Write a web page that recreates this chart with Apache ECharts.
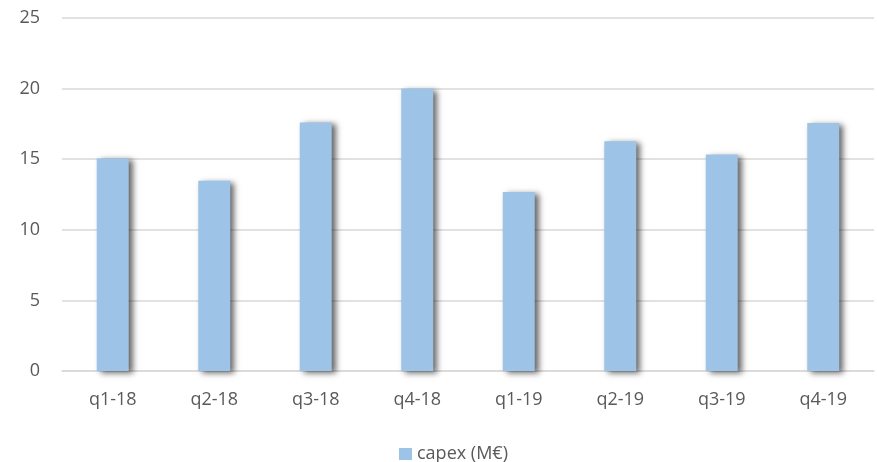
<!DOCTYPE html>
<html>
<head>
<meta charset="utf-8">
<script src="https://cdn.jsdelivr.net/npm/echarts@6/dist/echarts.min.js"></script>
<style>
  html, body { margin: 0; padding: 0; background: #ffffff; }
  #chart { width: 877px; height: 462px; }
</style>
</head>
<body>
<div id="chart"></div>
<script>
// Quarterly capital expenditure, in millions of euros
const quarters = ['q1-18', 'q2-18', 'q3-18', 'q4-18', 'q1-19', 'q2-19', 'q3-19', 'q4-19'];
const capex = [15.05, 13.47, 17.6, 20.0, 12.67, 16.28, 15.33, 17.57];
const seriesName = 'capex (M€)';

const textColor = '#595959';
const fontFamily = '"Open Sans", "Liberation Sans", sans-serif';

const chart = echarts.init(document.getElementById('chart'), null, { renderer: 'canvas' });
chart.setOption({
  animation: false,
  backgroundColor: '#ffffff',
  textStyle: { fontFamily: fontFamily, color: textColor },
  grid: { left: 62, right: 3, top: 18, bottom: 91, containLabel: false },
  legend: {
    data: [seriesName],
    left: 394,
    top: 440,
    itemWidth: 13,
    itemHeight: 12,
    itemGap: 6,
    icon: 'rect',
    textStyle: { fontSize: 18, color: textColor, fontFamily: fontFamily }
  },
  xAxis: {
    type: 'category',
    data: quarters,
    axisLine: { show: true, lineStyle: { color: '#d9d9d9', width: 1.5 } },
    axisTick: { show: false },
    axisLabel: { fontSize: 18, color: textColor, margin: 20, fontFamily: fontFamily }
  },
  yAxis: {
    type: 'value',
    min: 0,
    max: 25,
    interval: 5,
    axisLine: { show: false },
    axisTick: { show: false },
    splitLine: { lineStyle: { color: '#d9d9d9', width: 1.5 } },
    axisLabel: { fontSize: 18, color: textColor, margin: 22, fontFamily: fontFamily }
  },
  series: [{
    name: seriesName,
    type: 'bar',
    data: capex,
    barWidth: '31.5%',
    itemStyle: {
      color: '#9dc3e6',
      shadowColor: 'rgba(0, 0, 0, 0.6)',
      shadowBlur: 6,
      shadowOffsetX: 4,
      shadowOffsetY: 2
    }
  }]
});
</script>
</body>
</html>
